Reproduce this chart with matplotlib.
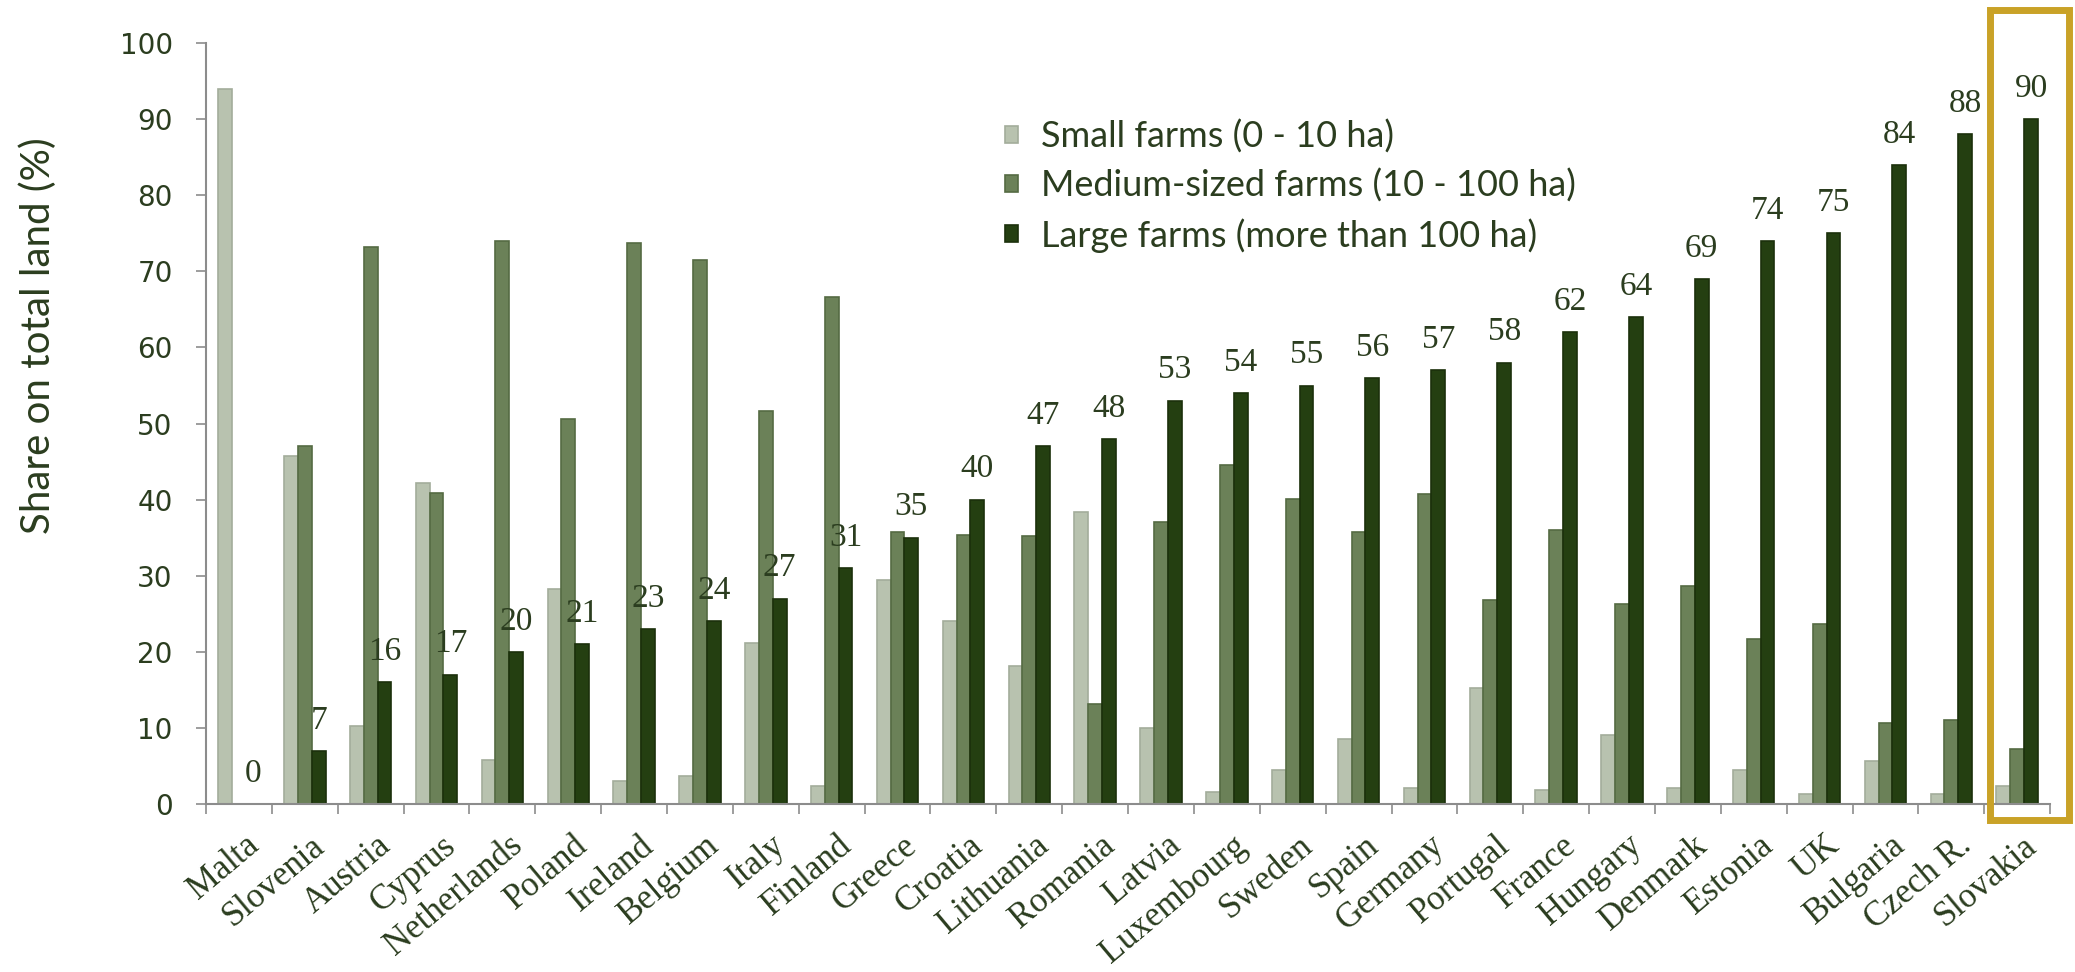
import numpy as np
import matplotlib.pyplot as plt
from matplotlib.patches import Rectangle
from matplotlib.transforms import ScaledTranslation

# share of total agricultural land by farm size class, per country (%)
countries = ['Malta', 'Slovenia', 'Austria', 'Cyprus', 'Netherlands', 'Poland',
             'Ireland', 'Belgium', 'Italy', 'Finland', 'Greece', 'Croatia',
             'Lithuania', 'Romania', 'Latvia', 'Luxembourg', 'Sweden', 'Spain',
             'Germany', 'Portugal', 'France', 'Hungary', 'Denmark', 'Estonia',
             'UK', 'Bulgaria', 'Czech R.', 'Slovakia']
small = [94.0, 45.7, 10.3, 42.2, 5.8, 28.2, 3.0, 3.7, 21.2, 2.4, 29.5, 24.1,
         18.2, 38.4, 10.0, 1.6, 4.5, 8.5, 2.1, 15.3, 1.8, 9.1, 2.1, 4.5,
         1.3, 5.6, 1.3, 2.4]
medium = [0.0, 47.0, 73.2, 40.9, 74.0, 50.6, 73.7, 71.5, 51.6, 66.6, 35.7, 35.4,
          35.2, 13.1, 37.1, 44.6, 40.1, 35.7, 40.8, 26.8, 36.0, 26.3, 28.7, 21.7,
          23.7, 10.7, 11.0, 7.2]
large = [0, 7, 16, 17, 20, 21, 23, 24, 27, 31, 35, 40, 47, 48, 53, 54, 55, 56,
         57, 58, 62, 64, 69, 74, 75, 84, 88, 90]

series_names = ['Small farms (0 - 10 ha)', 'Medium-sized farms (10 - 100 ha)',
                'Large farms (more than 100 ha)']
fills = ['#b8c2af', '#6b8158', '#243f11']
edges = ['#a3ad9b', '#556b43', '#1b300b']
highlight = 'Slovakia'

text_col = '#2b3d1f'
axis_col = '#8c8c8c'
sans = ['Lato', 'DejaVu Sans']
serif = ['Liberation Serif', 'DejaVu Serif']

fig = plt.figure(figsize=(20.75, 9.72), dpi=100)
ax = fig.add_axes([0.0993, 0.1728, 0.8887, 0.7829])

x = np.arange(len(countries))
w = 0.21
for k, vals in enumerate([small, medium, large]):
    ax.bar(x + (k - 1) * w, vals, width=w, color=fills[k], edgecolor=edges[k],
           linewidth=1.2, label=series_names[k], zorder=2)

# value labels on the large-farm bars
for xi, v in zip(x, large):
    ax.annotate(f'{v}', (xi + w, v), xytext=(0, 16), textcoords='offset points',
                ha='center', va='baseline', fontsize=24, family=serif,
                color=text_col, zorder=3)

ax.set_xlim(-0.5, len(countries) - 0.5)
ax.set_ylim(0, 100)
ax.set_yticks(np.arange(0, 101, 10))
ax.tick_params(axis='y', length=7, width=1.2, color=axis_col, labelsize=20,
               labelcolor=text_col, pad=17)

ax.set_xticks(x)
ax.set_xticklabels(countries, rotation=40, ha='right', va='top',
                   rotation_mode='anchor', fontsize=25, family=serif,
                   color=text_col)
ax.tick_params(axis='x', which='major', length=0, pad=18)
shift = ScaledTranslation(5 / 100, 0, fig.dpi_scale_trans)
for lab in ax.get_xticklabels():
    lab.set_transform(lab.get_transform() + shift)
ax.set_xticks(np.arange(-0.5, len(countries), 1), minor=True)
ax.tick_params(axis='x', which='minor', length=7, width=1.2, color=axis_col)

for s in ['top', 'right']:
    ax.spines[s].set_visible(False)
for s in ['left', 'bottom']:
    ax.spines[s].set_color(axis_col)
    ax.spines[s].set_linewidth(1.5)

ax.set_ylabel('Share on total land (%)', fontsize=29, family=sans, color=text_col,
              va='center')
ax.yaxis.set_label_coords(-0.091, 0.616)

leg = ax.legend(loc='center left', bbox_to_anchor=(0.4757, 0.8086),
                bbox_transform=fig.transFigure, frameon=False, borderpad=0,
                handlelength=0.36, handleheight=0.36, handletextpad=0.62,
                labelspacing=0.42, prop={'family': sans, 'size': 26})
for t in leg.get_texts():
    t.set_color(text_col)

# frame around the last country
hi = countries.index(highlight)
ax.add_patch(Rectangle((hi - 0.41, -2.1), 1.2, 106.4, fill=False,
                       edgecolor='#c9a227', linewidth=5, clip_on=False, zorder=4))

fig.savefig('out.png', dpi=100, facecolor='white')
